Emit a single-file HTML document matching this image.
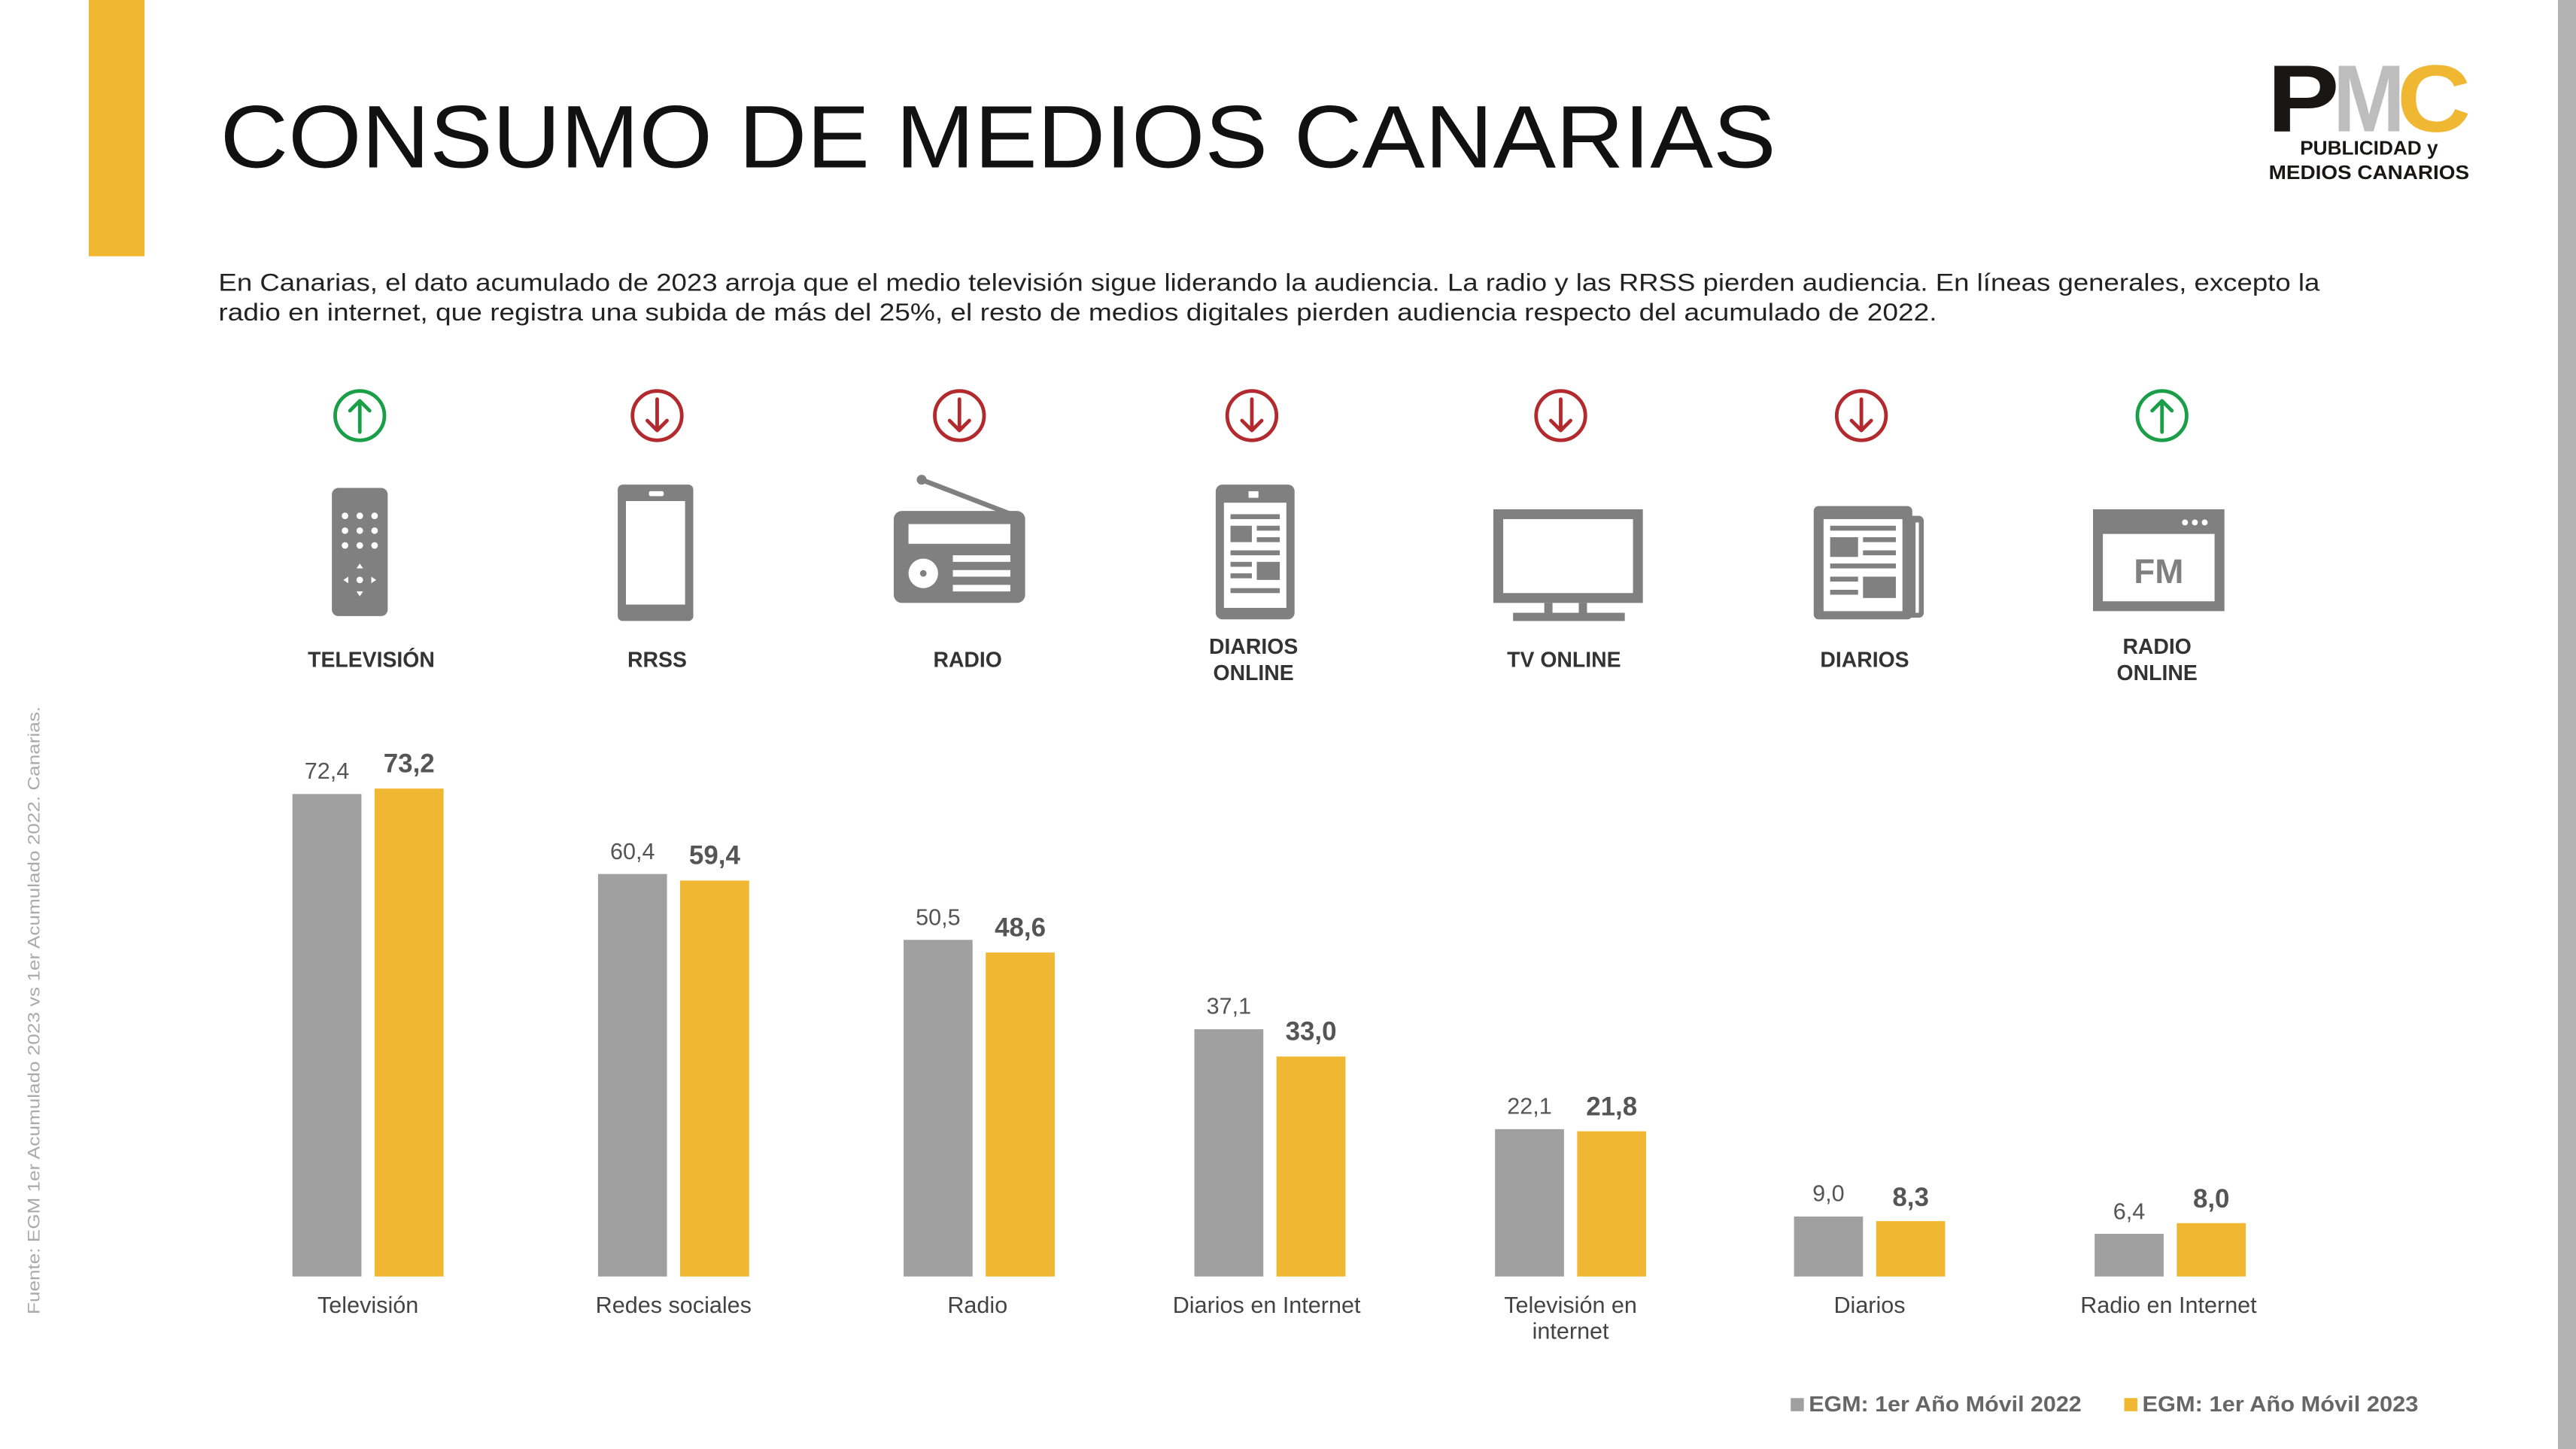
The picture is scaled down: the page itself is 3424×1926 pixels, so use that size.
<!DOCTYPE html>
<html><head><meta charset="utf-8"><style>
html,body{margin:0;padding:0;background:#fff;width:3424px;height:1926px;overflow:hidden}
svg{display:block}
text{font-family:"Liberation Sans",sans-serif}
</style></head><body>
<svg width="3424" height="1926" viewBox="0 0 1568 882" xmlns="http://www.w3.org/2000/svg">
<rect width="1568" height="882" fill="#fff"/>
<rect x="54" y="0" width="34" height="156" fill="#f0b733"/>
<rect x="1557" y="0" width="11" height="882" fill="#b3b3b3"/>
<text x="134" y="102" font-size="54" fill="#111" textLength="947" lengthAdjust="spacingAndGlyphs">CONSUMO DE MEDIOS CANARIAS</text>
<!-- logo -->
<text x="1380" y="80" font-size="58" font-weight="bold" fill="#1a1616" textLength="44" lengthAdjust="spacingAndGlyphs">P</text>
<text x="1420" y="80" font-size="58" font-weight="bold" fill="#bdbdbd" textLength="44" lengthAdjust="spacingAndGlyphs">M</text>
<text x="1459" y="80" font-size="58" font-weight="bold" fill="#f0b733" textLength="45" lengthAdjust="spacingAndGlyphs">C</text>
<text x="1442" y="94" font-size="12" font-weight="bold" fill="#1a1616" text-anchor="middle">PUBLICIDAD y</text>
<text x="1442" y="109" font-size="12" font-weight="bold" fill="#1a1616" text-anchor="middle" textLength="122" lengthAdjust="spacingAndGlyphs">MEDIOS CANARIOS</text>
<!-- paragraph -->
<text x="133" y="177" font-size="15" fill="#222" textLength="1279" lengthAdjust="spacingAndGlyphs">En Canarias, el dato acumulado de 2023 arroja que el medio televisión sigue liderando la audiencia. La radio y las RRSS pierden audiencia. En líneas generales, excepto la</text>
<text x="133" y="195" font-size="15" fill="#222" textLength="1046" lengthAdjust="spacingAndGlyphs">radio en internet, que registra una subida de más del 25%, el resto de medios digitales pierden audiencia respecto del acumulado de 2022.</text>
<!-- arrows -->
<g fill="none" stroke-width="2.2" stroke-linecap="round" stroke-linejoin="round">
<g stroke="#1a9e48"><circle cx="219" cy="253" r="15"/><path d="M219 263V244M213 250l6-6 6 6"/></g>
<g stroke="#b22a2e"><circle cx="400" cy="253" r="15"/><path d="M400 243v19M394 256l6 6 6-6"/></g>
<g stroke="#b22a2e"><circle cx="584" cy="253" r="15"/><path d="M584 243v19M578 256l6 6 6-6"/></g>
<g stroke="#b22a2e"><circle cx="762" cy="253" r="15"/><path d="M762 243v19M756 256l6 6 6-6"/></g>
<g stroke="#b22a2e"><circle cx="950" cy="253" r="15"/><path d="M950 243v19M944 256l6 6 6-6"/></g>
<g stroke="#b22a2e"><circle cx="1133" cy="253" r="15"/><path d="M1133 243v19M1127 256l6 6 6-6"/></g>
<g stroke="#1a9e48"><circle cx="1316" cy="253" r="15"/><path d="M1316 263V244M1310 250l6-6 6 6"/></g>
</g>
<!-- icons -->
<g fill="#808080">
<rect x="202" y="297" width="34" height="78" rx="4"/>
<g fill="#fff"><circle cx="210" cy="314" r="2"/><circle cx="219" cy="314" r="2"/><circle cx="228" cy="314" r="2"/><circle cx="210" cy="323" r="2"/><circle cx="219" cy="323" r="2"/><circle cx="228" cy="323" r="2"/><circle cx="210" cy="332" r="2"/><circle cx="219" cy="332" r="2"/><circle cx="228" cy="332" r="2"/><circle cx="219" cy="353" r="2"/><path d="M219 343l2 3h-4zM219 363l2-3h-4zM209 353l3-2v4zM229 353l-3-2v4z"/></g>
<rect x="376" y="295" width="46" height="83" rx="3"/>
<rect x="381" y="305" width="36" height="63" fill="#fff"/><rect x="395" y="299" width="9" height="3" rx="1" fill="#fff"/>
<line x1="561" y1="292" x2="618" y2="314" stroke="#808080" stroke-width="3"/><circle cx="561" cy="292" r="3"/>
<rect x="544" y="311" width="80" height="56" rx="5"/>
<rect x="553" y="319" width="62" height="12" fill="#fff"/><circle cx="562" cy="349" r="9" fill="#fff"/><circle cx="562" cy="349" r="2"/>
<rect x="580" y="338" width="35" height="4" fill="#fff"/><rect x="580" y="347" width="35" height="4" fill="#fff"/><rect x="580" y="356" width="35" height="4" fill="#fff"/>
<rect x="740" y="295" width="48" height="82" rx="4"/>
<rect x="745" y="306" width="38" height="64" fill="#fff"/><rect x="760" y="299" width="6" height="4" fill="#fff"/>
<rect x="749" y="313" width="30" height="3"/><rect x="749" y="320" width="13" height="10"/><rect x="765" y="320" width="14" height="3"/><rect x="765" y="327" width="14" height="3"/><rect x="749" y="335" width="30" height="3"/><rect x="749" y="342" width="13" height="3"/><rect x="765" y="342" width="14" height="11"/><rect x="749" y="349" width="13" height="3"/><rect x="749" y="358" width="30" height="3"/>
<rect x="909" y="310" width="91" height="57"/><rect x="915" y="316" width="79" height="45" fill="#fff"/>
<rect x="940" y="367" width="5" height="7"/><rect x="961" y="367" width="5" height="7"/><rect x="921" y="373" width="68" height="5"/>
<rect x="1104" y="308" width="60" height="69" rx="3"/><rect x="1160" y="314" width="11" height="62" rx="3"/>
<rect x="1110" y="316" width="48" height="56" fill="#fff"/><rect x="1166" y="318" width="2" height="55" fill="#fff"/>
<rect x="1114" y="320" width="40" height="3"/><rect x="1114" y="327" width="17" height="12"/><rect x="1134" y="327" width="20" height="3"/><rect x="1134" y="335" width="20" height="3"/><rect x="1114" y="343" width="40" height="3"/><rect x="1114" y="351" width="17" height="3"/><rect x="1134" y="351" width="20" height="13"/><rect x="1114" y="359" width="17" height="3"/>
<rect x="1274" y="310" width="80" height="62"/><rect x="1280" y="325" width="68" height="41" fill="#fff"/>
<circle cx="1330" cy="318" r="1.8" fill="#fff"/><circle cx="1336" cy="318" r="1.8" fill="#fff"/><circle cx="1342" cy="318" r="1.8" fill="#fff"/>
<text x="1314" y="355" font-size="21" font-weight="bold" text-anchor="middle" fill="#808080">FM</text>
</g>
<!-- icon labels -->
<g font-size="13" font-weight="bold" fill="#333" text-anchor="middle">
<text x="226" y="406">TELEVISIÓN</text>
<text x="400" y="406">RRSS</text>
<text x="589" y="406">RADIO</text>
<text x="763" y="398">DIARIOS</text><text x="763" y="414">ONLINE</text>
<text x="952" y="406">TV ONLINE</text>
<text x="1135" y="406">DIARIOS</text>
<text x="1313" y="398">RADIO</text><text x="1313" y="414">ONLINE</text>
</g>
<!-- bars -->
<g fill="#a0a0a0">
<rect x="178" y="483.3" width="42" height="293.7"/>
<rect x="364" y="532" width="42" height="245"/>
<rect x="550" y="572.1" width="42" height="204.9"/>
<rect x="727" y="626.5" width="42" height="150.5"/>
<rect x="910" y="687.3" width="42" height="89.7"/>
<rect x="1092" y="740.5" width="42" height="36.5"/>
<rect x="1275" y="751" width="42" height="26"/>
</g>
<g fill="#f0b733">
<rect x="228" y="480" width="42" height="297"/>
<rect x="414" y="536" width="42" height="241"/>
<rect x="600" y="579.8" width="42" height="197.2"/>
<rect x="777" y="643.1" width="42" height="133.9"/>
<rect x="960" y="688.6" width="42" height="88.4"/>
<rect x="1142" y="743.3" width="42" height="33.7"/>
<rect x="1325" y="744.5" width="42" height="32.5"/>
</g>
<g font-size="14" fill="#555" text-anchor="middle">
<text x="199" y="474">72,4</text><text x="385" y="523">60,4</text><text x="571" y="563">50,5</text><text x="748" y="617">37,1</text><text x="931" y="678">22,1</text><text x="1113" y="731">9,0</text><text x="1296" y="742">6,4</text>
</g>
<g font-size="16" font-weight="bold" fill="#555" text-anchor="middle">
<text x="249" y="470">73,2</text><text x="435" y="526">59,4</text><text x="621" y="570">48,6</text><text x="798" y="633">33,0</text><text x="981" y="679">21,8</text><text x="1163" y="734">8,3</text><text x="1346" y="735">8,0</text>
</g>
<g font-size="14" fill="#444" text-anchor="middle">
<text x="224" y="799">Televisión</text><text x="410" y="799">Redes sociales</text><text x="595" y="799">Radio</text><text x="771" y="799">Diarios en Internet</text><text x="956" y="799">Televisión en</text><text x="956" y="815">internet</text><text x="1138" y="799">Diarios</text><text x="1320" y="799">Radio en Internet</text>
</g>
<!-- legend -->
<rect x="1090" y="851" width="8" height="8" fill="#a0a0a0"/>
<text x="1101" y="859" font-size="13" font-weight="bold" fill="#666" textLength="166" lengthAdjust="spacingAndGlyphs">EGM: 1er Año Móvil 2022</text>
<rect x="1293" y="851" width="8" height="8" fill="#f0b733"/>
<text x="1304" y="859" font-size="13" font-weight="bold" fill="#666" textLength="168" lengthAdjust="spacingAndGlyphs">EGM: 1er Año Móvil 2023</text>
<!-- source -->
<text transform="translate(24,800) rotate(-90)" font-size="10" fill="#aaa" textLength="370" lengthAdjust="spacingAndGlyphs">Fuente: EGM 1er Acumulado 2023 vs 1er Acumulado 2022. Canarias.</text>
</svg>
</body></html>
